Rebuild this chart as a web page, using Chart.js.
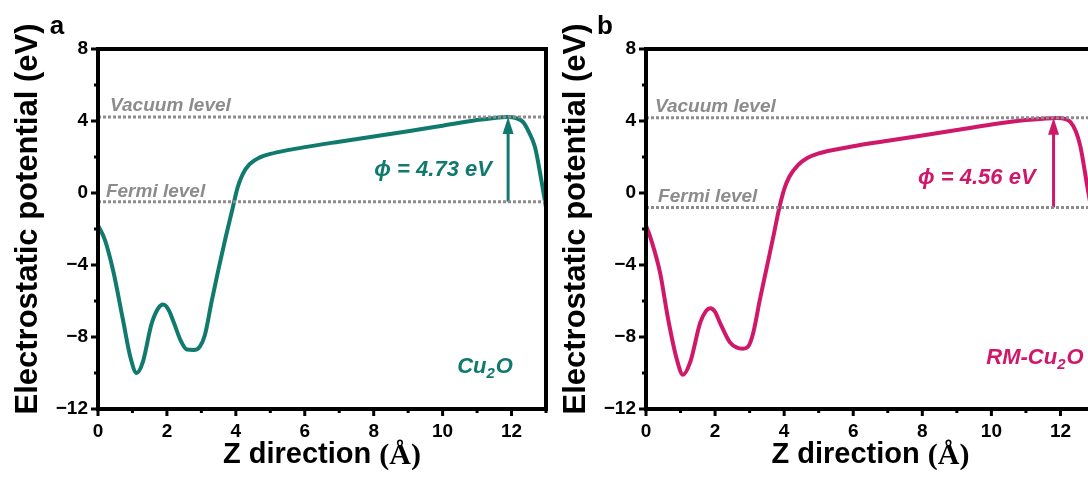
<!DOCTYPE html>
<html>
<head>
<meta charset="utf-8">
<script src="https://cdn.jsdelivr.net/npm/chart.js@4.4.1/dist/chart.umd.min.js"></script>
<style>
  html, body { margin: 0; padding: 0; background: #fff; width: 1088px; height: 477px; overflow: hidden; position: relative; }
  .panel { position: absolute; top: 0; height: 477px; }
  #pa { left: 0; width: 560px; }
  #pb { left: 548px; width: 561px; }
</style>
</head>
<body>
<div class="panel" id="pa"><canvas id="chartA" width="560" height="477"></canvas></div>
<div class="panel" id="pb"><canvas id="chartB" width="561" height="477"></canvas></div>
<script>
// Z positions (Å) and potential (eV)
const zCu2O = [0, 0.2, 0.45, 0.72, 0.95, 1.12, 1.3, 1.55, 1.75, 1.89, 2.05, 2.2, 2.4, 2.58, 2.78, 2.95, 3.1, 3.3, 3.5, 3.7, 3.9, 4.05, 4.2, 4.4, 4.7, 5.0, 5.5, 6, 7, 8, 9, 10, 11, 11.5, 11.85, 12.15, 12.33, 12.5, 12.68, 12.88, 13];
const vCu2O = [-1.8, -2.6, -4.4, -7.0, -9.2, -10.0, -9.4, -7.3, -6.4, -6.2, -6.5, -7.2, -8.2, -8.7, -8.72, -8.55, -7.9, -6.0, -4.2, -2.5, -0.9, 0.3, 1.05, 1.6, 1.98, 2.17, 2.38, 2.55, 2.85, 3.14, 3.43, 3.74, 4.05, 4.17, 4.22, 4.15, 3.95, 3.4, 2.55, 0.55, -0.8];

const zRM = [0, 0.15, 0.41, 0.64, 0.9, 1.07, 1.28, 1.57, 1.74, 1.86, 2.0, 2.14, 2.43, 2.64, 2.8, 2.95, 3.1, 3.3, 3.5, 3.7, 3.85, 4.0, 4.15, 4.4, 4.67, 5.0, 5.5, 6, 7, 8, 9, 10, 11, 11.5, 11.91, 12.15, 12.29, 12.45, 12.58, 12.78, 13];
const vRM = [-1.8, -2.6, -4.45, -7.0, -9.3, -10.1, -9.4, -7.2, -6.55, -6.4, -6.6, -7.2, -8.3, -8.6, -8.65, -8.55, -7.8, -5.9, -4.1, -2.3, -0.9, 0.2, 0.9, 1.55, 1.94, 2.2, 2.42, 2.6, 2.9, 3.2, 3.5, 3.8, 4.05, 4.13, 4.17, 4.1, 3.94, 3.4, 2.56, 0.33, -2.0];

// vacuum / Fermi levels (eV) and arrow position (Å)
const vacuumLevels = [4.22, 4.18];
const fermiLevels = [-0.48, -0.8];
const arrowZ = [11.9, 11.8];
const workFunctions = ["4.73", "4.56"];
const panelLetters = ["a", "b"];
const materials = [["Cu", "2", "O"], ["RM-Cu", "2", "O"]];

const xTicksMin = 0, xTicksMax = 13;
const yTicksMin = -12, yTicksMax = 8;

const FONT = "Arial, 'Liberation Sans', sans-serif";
const SERIF = "'Times New Roman', 'Liberation Serif', serif";
const GRAY = "#8c8c8c";

const toPts = (zs, vs) => zs.map((z, i) => ({ x: z, y: vs[i] }));

const decor = {
  id: "decor",
  afterDatasetsDraw(chart, args, o) {
    const { ctx, chartArea: a, scales: { x, y } } = chart;
    ctx.save();

    // frame
    ctx.strokeStyle = "#000";
    ctx.lineWidth = 4;
    ctx.strokeRect(a.left, a.top, a.right - a.left, a.bottom - a.top);

    // outward ticks, short for minor ones
    ctx.lineWidth = 3;
    ctx.beginPath();
    x.ticks.forEach(t => {
      const px = x.getPixelForValue(t.value);
      const len = t.value % 2 === 0 ? 7 : 4;
      ctx.moveTo(px, a.bottom); ctx.lineTo(px, a.bottom + len);
    });
    y.ticks.forEach(t => {
      const py = y.getPixelForValue(t.value);
      const len = t.value % 4 === 0 ? 7 : 4;
      ctx.moveTo(a.left, py); ctx.lineTo(a.left - len, py);
    });
    ctx.stroke();

    // arrow head
    const ax = x.getPixelForValue(o.arrowZ);
    const ay = y.getPixelForValue(o.vac);
    ctx.fillStyle = o.color;
    ctx.beginPath();
    ctx.moveTo(ax, ay);
    ctx.lineTo(ax - 5.5, ay + 17);
    ctx.lineTo(ax + 5.5, ay + 17);
    ctx.closePath();
    ctx.fill();

    // level labels
    ctx.fillStyle = GRAY;
    ctx.font = "italic bold 19px " + FONT;
    ctx.textBaseline = "middle";
    ctx.textAlign = "left";
    ctx.fillText("Vacuum level", x.getPixelForValue(o.vacLabel[0]), y.getPixelForValue(o.vacLabel[1]));
    ctx.fillText("Fermi level", x.getPixelForValue(o.fermiLabel[0]), y.getPixelForValue(o.fermiLabel[1]));

    // work function
    ctx.fillStyle = o.color;
    ctx.font = "italic bold 22px " + FONT;
    ctx.textAlign = "right";
    ctx.fillText("\u03D5 = " + o.phi + " eV", x.getPixelForValue(o.phiPos[0]), y.getPixelForValue(o.phiPos[1]));

    // material label with subscript, right aligned
    const [m1, sub, m2] = o.material;
    const big = "italic bold 22px " + FONT, small = "italic bold 15px " + FONT;
    ctx.font = big; const w1 = ctx.measureText(m1).width, w3 = ctx.measureText(m2).width;
    ctx.font = small; const w2 = ctx.measureText(sub).width;
    let mx = x.getPixelForValue(o.matPos[0]) - (w1 + w2 + w3 + 1);
    const my = y.getPixelForValue(o.matPos[1]);
    ctx.textAlign = "left";
    ctx.font = big; ctx.fillText(m1, mx, my); mx += w1;
    ctx.font = small; ctx.fillText(sub, mx, my + 7); mx += w2 + 1;
    ctx.font = big; ctx.fillText(m2, mx, my);

    // x-axis title, unit in serif like the original
    ctx.fillStyle = "#000";
    const t1 = "Z direction ", t2 = "(\u00C5)";
    const f1 = "bold 29px " + FONT, f2 = "bold 30px " + SERIF;
    ctx.font = f1; const tw1 = ctx.measureText(t1).width;
    ctx.font = f2; const tw2 = ctx.measureText(t2).width;
    let tx = (a.left + a.right) / 2 - (tw1 + tw2) / 2;
    ctx.font = f1; ctx.fillText(t1, tx, 455);
    ctx.font = f2; ctx.fillText(t2, tx + tw1, 456);

    // panel letter
    ctx.font = "bold 26px " + FONT;
    ctx.textAlign = "center";
    ctx.fillText(o.letter, 57, 27);

    // y-axis title
    ctx.translate(28, 219);
    ctx.rotate(-Math.PI / 2);
    ctx.font = "bold 31px " + FONT;
    ctx.fillText("Electrostatic potential (eV)", 0, 0);
    ctx.restore();
  }
};

function makeChart(id, i, z, v, color, pos) {
  const vac = vacuumLevels[i], fermi = fermiLevels[i];
  return new Chart(document.getElementById(id), {
    type: "scatter",
    data: {
      datasets: [
        { data: [{ x: xTicksMin, y: vac }, { x: xTicksMax, y: vac }], showLine: true, borderColor: GRAY, borderWidth: 3, borderDash: [3, 2], pointRadius: 0 },
        { data: [{ x: xTicksMin, y: fermi }, { x: xTicksMax, y: fermi }], showLine: true, borderColor: GRAY, borderWidth: 3, borderDash: [3, 2], pointRadius: 0 },
        { data: toPts(z, v), showLine: true, borderColor: color, borderWidth: 4, pointRadius: 0, cubicInterpolationMode: "monotone" },
        { data: [{ x: arrowZ[i], y: fermi }, { x: arrowZ[i], y: vac - 0.6 }], showLine: true, borderColor: color, borderWidth: 3, pointRadius: 0 }
      ]
    },
    options: {
      responsive: false,
      animation: false,
      layout: { padding: { top: 49, right: 14, left: 0, bottom: 0 } },
      plugins: {
        legend: { display: false },
        tooltip: { enabled: false },
        decor: {
          color, vac, arrowZ: arrowZ[i], phi: workFunctions[i], letter: panelLetters[i], material: materials[i],
          vacLabel: pos.vacLabel, fermiLabel: pos.fermiLabel, phiPos: pos.phiPos, matPos: pos.matPos
        }
      },
      scales: {
        x: {
          type: "linear", min: xTicksMin, max: xTicksMax,
          afterFit: s => { s.height = 68; },
          grid: { display: true, drawOnChartArea: false, drawTicks: true, tickLength: 7, tickColor: "rgba(0,0,0,0)" },
          border: { display: false },
          ticks: {
            stepSize: 1, autoSkip: false, maxRotation: 0, padding: 4, color: "#000",
            font: { family: FONT, size: 19, weight: "bold" },
            callback: val => (val % 2 === 0 ? String(val) : "")
          }
        },
        y: {
          type: "linear", min: yTicksMin, max: yTicksMax,
          afterFit: s => { s.width = 98; },
          grid: { display: true, drawOnChartArea: false, drawTicks: true, tickLength: 7, tickColor: "rgba(0,0,0,0)" },
          border: { display: false },
          ticks: {
            stepSize: 2, autoSkip: false, padding: 3, color: "#000",
            font: { family: FONT, size: 19, weight: "bold" },
            callback: val => (val % 4 === 0 ? String(val).replace("-", "\u2212") : "")
          }
        }
      }
    },
    plugins: [decor]
  });
}

makeChart("chartA", 0, zCu2O, vCu2O, "#117a6e", {
  vacLabel: [0.35, 4.83], fermiLabel: [0.23, 0.06], phiPos: [11.43, 1.28], matPos: [12.04, -9.67]
});
makeChart("chartB", 1, zRM, vRM, "#d0186b", {
  vacLabel: [0.26, 4.78], fermiLabel: [0.35, -0.22], phiPos: [11.28, 0.83], matPos: [12.67, -9.17]
});
</script>
</body>
</html>
